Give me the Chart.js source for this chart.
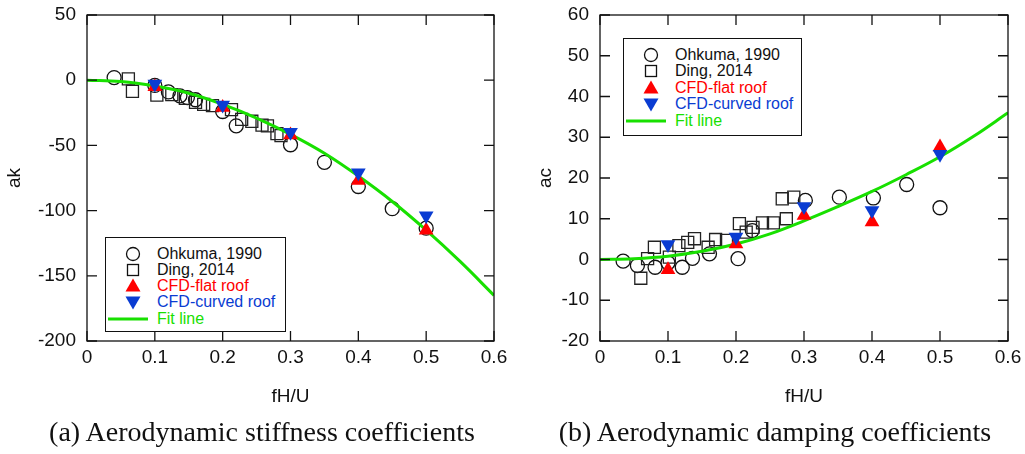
<!DOCTYPE html>
<html>
<head>
<meta charset="utf-8">
<script src="https://cdn.jsdelivr.net/npm/chart.js@4.4.1/dist/chart.umd.min.js"></script>
<style>
  body { margin: 0; background: #fff; width: 1025px; height: 454px; position: relative; overflow: hidden;
         font-family: "Liberation Sans", Arial, sans-serif; }
  canvas { position: absolute; top: 0; }
  #chartA { left: 0; }
  #chartB { left: 512px; }
  .cap { position: absolute; top: 418px; font-family: "Liberation Serif", "Times New Roman", serif;
         font-size: 28px; line-height: 28px; white-space: nowrap; text-align: center; color: #111; }
  .legend { position: absolute; border: 1.3px solid #111; background: #fff; box-sizing: border-box; }
  .legend .row { position: absolute; font-size: 16px; line-height: 16px; white-space: nowrap; }
  .legend svg { position: absolute; overflow: visible; }
</style>
</head>
<body>
<canvas id="chartA" width="512" height="454"></canvas>
<canvas id="chartB" width="513" height="454"></canvas>
<div class="cap" style="left:12px;width:500px">(a) Aerodynamic stiffness coefficients</div>
<div class="cap" style="left:525px;width:500px">(b) Aerodynamic damping coefficients</div>
<div class="legend" id="legA" style="left:105px;top:237px;width:181px;height:95px"></div>
<div class="legend" id="legB" style="left:623px;top:38px;width:179px;height:98px"></div>

<script>
// shared
const xTicks = [0, 0.1, 0.2, 0.3, 0.4, 0.5, 0.6];
const legendLabels = ["Ohkuma, 1990", "Ding, 2014", "CFD-flat roof", "CFD-curved roof", "Fit line"];

// (a) aerodynamic stiffness ak
const akTicks = [-200, -150, -100, -50, 0, 50];
const akOhkumaX = [0.04, 0.1, 0.12, 0.137, 0.148, 0.16, 0.2, 0.22, 0.3, 0.35, 0.4, 0.45, 0.5];
const akOhkumaY = [2, -4, -9, -12, -13.3, -15, -24, -35, -49.5, -63, -81.5, -98.5, -113.5];
const akDingX = [0.061, 0.067, 0.103, 0.125, 0.145, 0.16, 0.172, 0.185, 0.213, 0.228, 0.243, 0.258, 0.266, 0.28, 0.286];
const akDingY = [1, -8.5, -11.5, -11, -14, -17, -18.5, -19.5, -22.5, -30, -31.5, -34.5, -35, -41, -42.5];
const akFlatX = [0.1, 0.2, 0.3, 0.4, 0.5];
const akFlatY = [-5, -21, -42, -77, -115];
const akCurvedX = [0.1, 0.2, 0.3, 0.4, 0.5];
const akCurvedY = [-3, -19, -40, -71, -104];
const akFitX = [0, 0.05, 0.1, 0.15, 0.2, 0.25, 0.3, 0.35, 0.4, 0.45, 0.5, 0.55, 0.6];
const akFitY = [0, -1, -4.5, -10, -18.5, -29, -41.5, -56, -73.5, -93, -115, -139, -165];

// (b) aerodynamic damping ac
const acTicks = [-20, -10, 0, 10, 20, 30, 40, 50, 60];
const acOhkumaX = [0.034, 0.055, 0.081, 0.1, 0.121, 0.136, 0.161, 0.203, 0.224, 0.302, 0.352, 0.402, 0.451, 0.5];
const acOhkumaY = [-0.4, -1.5, -1.9, -0.8, -1.9, 0.3, 1.4, 0.2, 7.1, 14.5, 15.3, 15.1, 18.4, 12.7];
const acDingX = [0.06, 0.07, 0.08, 0.102, 0.116, 0.129, 0.139, 0.159, 0.17, 0.186, 0.205, 0.215, 0.225, 0.239, 0.255, 0.268, 0.274, 0.285];
const acDingY = [-4.6, 0.2, 3, 0.6, 3.4, 4.2, 5.1, 3, 4.9, 4.7, 8.8, 6.7, 7.9, 9, 9, 14.9, 10, 15.3];
const acFlatX = [0.1, 0.2, 0.3, 0.4, 0.5];
const acFlatY = [-2.5, 3.8, 10.8, 9.2, 27.6];
const acCurvedX = [0.1, 0.2, 0.3, 0.4, 0.5];
const acCurvedY = [3.7, 5.5, 13, 12, 25.8];
const acFitX = [0, 0.05, 0.1, 0.15, 0.2, 0.25, 0.3, 0.35, 0.4, 0.45, 0.5, 0.55, 0.6];
const acFitY = [0, 0.2, 0.8, 2, 3.8, 6.3, 9.5, 13, 16.7, 20.8, 25.2, 30.3, 36];

const RED = "#ff0000";
const BLUE = "#0a3cd2";
const GREEN = "#18e000";
const INK = "#111";
const FONT = "'Liberation Sans', Arial, sans-serif";

const pts = (xs, ys) => xs.map((x, i) => ({ x: x, y: ys[i] }));

// box around the plot with inward tick marks on all four sides
const boxTicks = {
  id: "boxTicks",
  afterDraw(chart) {
    const { ctx, chartArea: a, scales } = chart;
    ctx.save();
    ctx.strokeStyle = INK;
    ctx.lineWidth = 1.3;
    ctx.strokeRect(a.left, a.top, a.right - a.left, a.bottom - a.top);
    ctx.beginPath();
    scales.x.ticks.forEach(t => {
      const px = scales.x.getPixelForValue(t.value);
      ctx.moveTo(px, a.bottom); ctx.lineTo(px, a.bottom - 10);
      ctx.moveTo(px, a.top); ctx.lineTo(px, a.top + 10);
    });
    scales.y.ticks.forEach(t => {
      const py = scales.y.getPixelForValue(t.value);
      ctx.moveTo(a.left, py); ctx.lineTo(a.left + 10, py);
      ctx.moveTo(a.right, py); ctx.lineTo(a.right - 10, py);
    });
    ctx.stroke();
    ctx.restore();
  }
};

function makeChart(id, cfg) {
  return new Chart(document.getElementById(id), {
    type: "scatter",
    data: {
      datasets: [
        { label: legendLabels[3], data: pts(cfg.curvedX, cfg.curvedY), order: 1, pointStyle: "triangle", rotation: 180,
          pointRadius: 8.5, backgroundColor: BLUE, borderColor: BLUE, borderWidth: 0 },
        { label: legendLabels[2], data: pts(cfg.flatX, cfg.flatY), order: 2, pointStyle: "triangle",
          pointRadius: 8.5, backgroundColor: RED, borderColor: RED, borderWidth: 0 },
        { label: legendLabels[4], type: "line", data: pts(cfg.fitX, cfg.fitY), order: 3, borderColor: GREEN,
          borderWidth: 3, pointRadius: 0, tension: 0.4, fill: false },
        { label: legendLabels[1], data: pts(cfg.dingX, cfg.dingY), order: 4, pointStyle: "rect",
          pointRadius: 8.5, backgroundColor: "rgba(0,0,0,0)", borderColor: "#222", borderWidth: 1.3 },
        { label: legendLabels[0], data: pts(cfg.ohkX, cfg.ohkY), order: 5, pointStyle: "circle",
          pointRadius: 7, backgroundColor: "rgba(0,0,0,0)", borderColor: "#111", borderWidth: 1.3 }
      ]
    },
    options: {
      responsive: false,
      animation: false,
      layout: { padding: { left: 0, top: 15, right: cfg.padRight, bottom: 0 } },
      plugins: { legend: { display: false }, tooltip: { enabled: false } },
      scales: {
        x: {
          type: "linear", min: 0, max: 0.6,
          afterBuildTicks: s => { s.ticks = xTicks.map(v => ({ value: v })); },
          afterFit: s => { s.height = 113; s.paddingLeft = 0; s.paddingRight = 0; },
          grid: { display: false, drawTicks: false },
          border: { display: false },
          ticks: { color: INK, padding: 5, maxRotation: 0, autoSkip: false,
                   font: { family: FONT, size: 19 }, callback: v => String(v) },
          title: { display: true, text: "fH/U", color: INK, font: { family: FONT, size: 19 },
                   padding: { top: 0, bottom: 45.6 } }
        },
        y: {
          type: "linear", min: cfg.yTicks[0], max: cfg.yTicks[cfg.yTicks.length - 1],
          afterBuildTicks: s => { s.ticks = cfg.yTicks.map(v => ({ value: v })); },
          afterFit: s => { s.width = cfg.axisLeft; s.paddingTop = 0; s.paddingBottom = 0; },
          grid: { display: false, drawTicks: false },
          border: { display: false },
          ticks: { color: INK, padding: 11, autoSkip: false,
                   font: { family: FONT, size: 19 }, callback: v => String(v) },
          title: { display: true, text: cfg.yTitle, color: INK, font: { family: FONT, size: 19 },
                   padding: { top: cfg.titlePad, bottom: 0 } }
        }
      }
    },
    plugins: [boxTicks]
  });
}

makeChart("chartA", {
  ohkX: akOhkumaX, ohkY: akOhkumaY, dingX: akDingX, dingY: akDingY,
  flatX: akFlatX, flatY: akFlatY, curvedX: akCurvedX, curvedY: akCurvedY,
  fitX: akFitX, fitY: akFitY, yTicks: akTicks, yTitle: "ak",
  axisLeft: 87, padRight: 18, titlePad: 3.6
});
makeChart("chartB", {
  ohkX: acOhkumaX, ohkY: acOhkumaY, dingX: acDingX, dingY: acDingY,
  flatX: acFlatX, flatY: acFlatY, curvedX: acCurvedX, curvedY: acCurvedY,
  fitX: acFitX, fitY: acFitY, yTicks: acTicks, yTitle: "ac",
  axisLeft: 88, padRight: 17, titlePad: 22.6
});

// legends drawn in html so the text stays real text
const legendSymbols = [
  '<circle cx="0" cy="0" r="6.5" fill="none" stroke="#111" stroke-width="1.3"/>',
  '<rect x="-5.5" y="-5.5" width="11" height="11" fill="none" stroke="#111" stroke-width="1.3"/>',
  '<polygon points="0,-7.5 7.5,5.5 -7.5,5.5" fill="' + RED + '"/>',
  '<polygon points="0,7.5 7.5,-5.5 -7.5,-5.5" fill="' + BLUE + '"/>',
  '<line x1="-20" y1="0" x2="20" y2="0" stroke="' + GREEN + '" stroke-width="3"/>'
];
const legendColors = ["#111", "#111", RED, BLUE, GREEN];

function buildLegend(id, symX, textX, firstY, step) {
  const box = document.getElementById(id);
  legendLabels.forEach((label, i) => {
    const cy = firstY + i * step;
    const sx = i === 4 ? symX - 5 : symX;
    box.insertAdjacentHTML("beforeend",
      '<svg width="1" height="1" style="left:' + sx + 'px;top:' + cy + 'px">' + legendSymbols[i] + '</svg>' +
      '<div class="row" style="left:' + textX + 'px;top:' + (cy - 8) + 'px;color:' + legendColors[i] + '">' + label + '</div>');
  });
}
buildLegend("legA", 27, 51, 15.5, 16.3);
buildLegend("legB", 27, 51, 16, 16.4);
</script>
</body>
</html>
